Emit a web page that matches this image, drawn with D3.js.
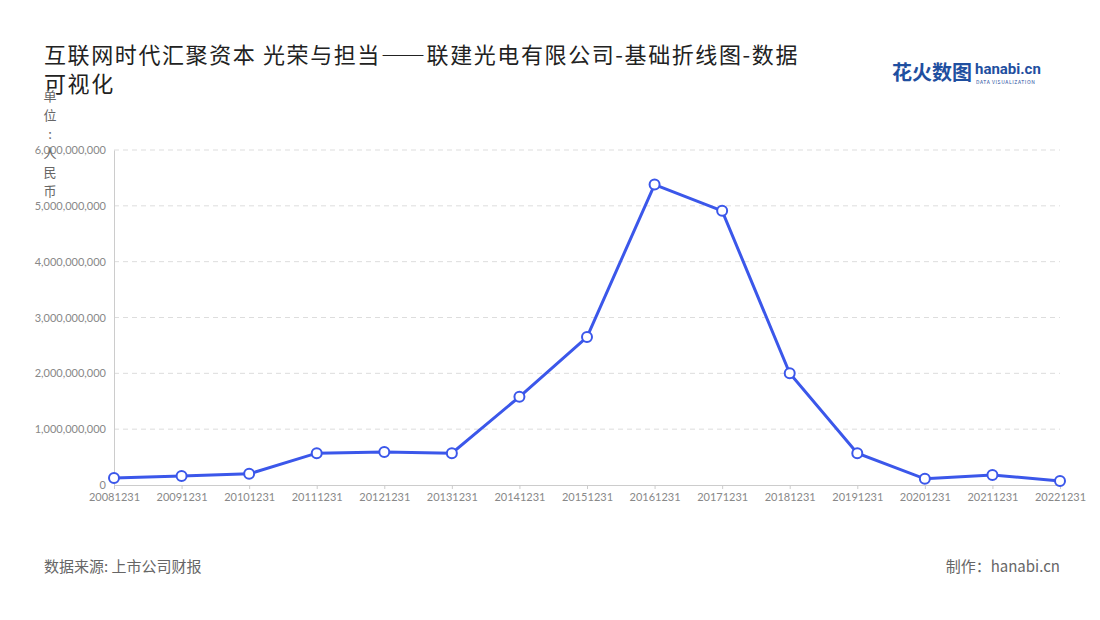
<!DOCTYPE html>
<html lang="zh">
<head>
<meta charset="UTF-8">
<script src="https://d3js.org/d3.v7.min.js"></script>
<style>
  body { margin: 0; background: #fff; font-family: "Noto Sans CJK SC", "Noto Sans", sans-serif; }
</style>
</head>
<body>
<svg id="chart" width="1100" height="620"></svg>
<script>
// data
const years = ["20081231","20091231","20101231","20111231","20121231","20131231","20141231",
  "20151231","20161231","20171231","20181231","20191231","20201231","20211231","20221231"];
const capital = [125e6, 160e6, 200e6, 570e6, 590e6, 570e6, 1580e6,
  2650e6, 5380e6, 4910e6, 2000e6, 570e6, 110e6, 180e6, 70e6];
const yTicks = [0, 1e9, 2e9, 3e9, 4e9, 5e9, 6e9];

const svg = d3.select("#chart");
const margin = { left: 114, right: 40, top: 150, bottom: 135 };
const W = 1100, H = 620;

const x = d3.scalePoint().domain(years).range([margin.left, W - margin.right]);
const y = d3.scaleLinear().domain([0, 6e9]).range([H - margin.bottom, margin.top]);

// title
const title = svg.append("text").attr("x", 44).attr("y", 63)
  .attr("font-size", 22).attr("letter-spacing", 1.6).attr("fill", "#222");
title.append("tspan").text("互联网时代汇聚资本 光荣与担当——联建光电有限公司-基础折线图-数据");
title.append("tspan").attr("x", 44).attr("dy", 29).text("可视化");

// logo
svg.append("text").attr("x", 892).attr("y", 80).attr("font-size", 20).attr("font-weight", "bold")
  .attr("fill", "#1f4fa0").text("花火数图");
svg.append("text").attr("x", 975).attr("y", 74).attr("font-size", 15).attr("font-weight", "bold")
  .attr("fill", "#1f4fa0").attr("font-family", "Roboto, sans-serif").text("hanabi.cn");
svg.append("text").attr("x", 976).attr("y", 84).attr("font-size", 5)
  .attr("fill", "#1f4fa0").attr("letter-spacing", 0.6).text("DATA VISUALIZATION");

// gridlines
svg.append("g").selectAll("line").data(yTicks.slice(1)).join("line")
  .attr("x1", margin.left).attr("x2", W - margin.right)
  .attr("y1", d => y(d)).attr("y2", d => y(d))
  .attr("stroke", "#ddd").attr("stroke-dasharray", "5,4");

// y axis
const yAxis = svg.append("g").attr("transform", `translate(${margin.left},0)`)
  .call(d3.axisLeft(y).tickValues(yTicks).tickFormat(d3.format(",d")).tickSize(0).tickPadding(8));
yAxis.select(".domain").attr("stroke", "#ccc");
yAxis.selectAll("text").attr("fill", "#888").attr("font-size", 11).attr("font-family", "Lato, sans-serif");

// y title (vertical characters)
svg.append("g").selectAll("text").data("单位:人民币".split("")).join("text")
  .attr("x", 50).attr("y", (d, i) => 101 + i * 19).attr("text-anchor", "middle")
  .attr("font-size", 13).attr("fill", "#666").text(d => d);

// x axis
const xAxis = svg.append("g").attr("transform", `translate(0,${y(0)})`)
  .call(d3.axisBottom(x).tickSize(4).tickPadding(4));
xAxis.select(".domain").attr("stroke", "#ccc");
xAxis.selectAll("line").attr("stroke", "#ccc");
xAxis.selectAll("text").attr("fill", "#888").attr("font-size", 11).attr("font-family", "Lato, sans-serif");

// line
const line = d3.line().x((d, i) => x(years[i])).y(d => y(d));
svg.append("path").datum(capital).attr("d", line)
  .attr("fill", "none").attr("stroke", "#3b57ea").attr("stroke-width", 3);
svg.append("g").selectAll("circle").data(capital).join("circle")
  .attr("cx", (d, i) => x(years[i])).attr("cy", d => y(d)).attr("r", 5)
  .attr("fill", "#fff").attr("stroke", "#3b57ea").attr("stroke-width", 2);

// footer
svg.append("text").attr("x", 44).attr("y", 572).attr("font-size", 15).attr("fill", "#666")
  .text("数据来源: 上市公司财报");
svg.append("text").attr("x", 1060).attr("y", 572).attr("text-anchor", "end")
  .attr("font-size", 15).attr("fill", "#666").text("制作：hanabi.cn");
</script>
</body>
</html>
